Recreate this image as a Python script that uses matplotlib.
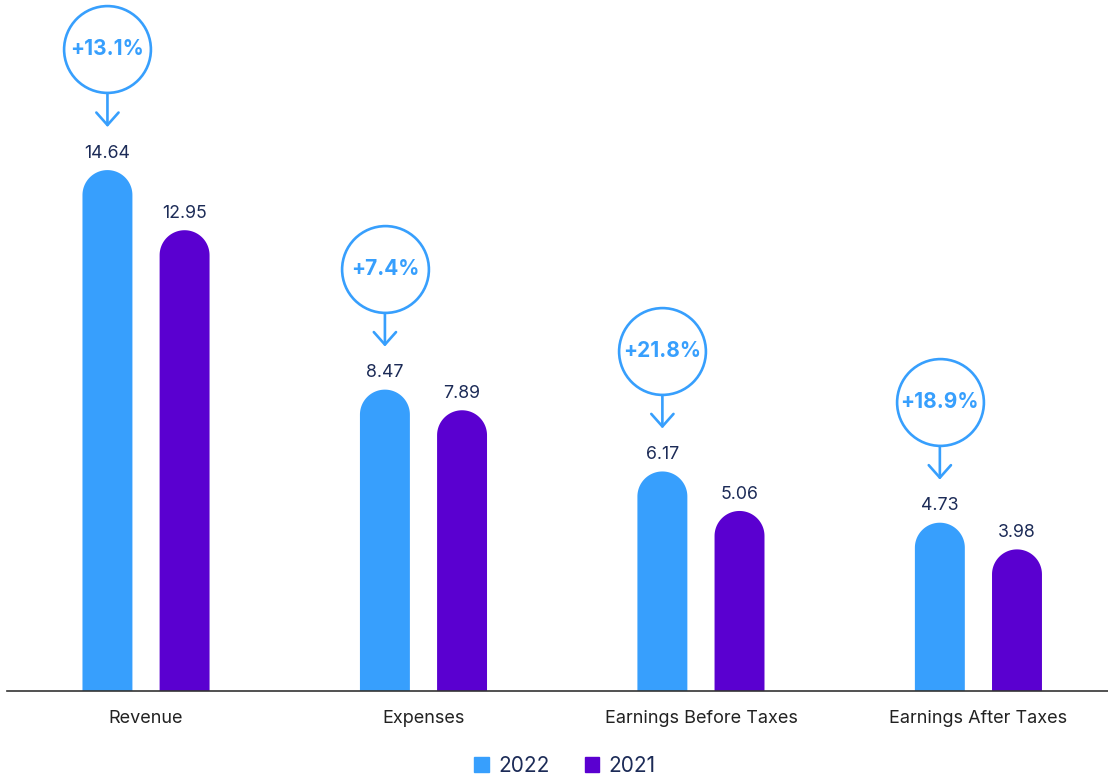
import matplotlib.pyplot as plt
from matplotlib.patches import Polygon
from matplotlib.transforms import offset_copy
import numpy as np

plt.rcParams['font.family'] = ['Inter', 'DejaVu Sans']

categories = ['Revenue', 'Expenses', 'Earnings Before Taxes', 'Earnings After Taxes']
vals_2022 = [14.64, 8.47, 6.17, 4.73]
vals_2021 = [12.95, 7.89, 5.06, 3.98]
growth = ['+13.1%', '+7.4%', '+21.8%', '+18.9%']

blue = '#379ffd'
purple = '#5a00d0'
navy = '#1c2b57'

fig = plt.figure(figsize=(11.08, 7.82), dpi=100)
W, H = 1108, 782
ax = fig.add_axes([7 / W, (H - 691) / H, 1101 / W, 691 / H])

x = np.arange(len(categories))
bw = 0.18
off = 0.139
ymax = 19.42
ax.set_xlim(-0.501, 3.467)
ax.set_ylim(0, ymax)

# half the bar width expressed in y units so the cap comes out round
ax_w_px = 1101
ax_h_px = 691
xr = ax.get_xlim()
rx = bw / 2
rx_px = rx * ax_w_px / (xr[1] - xr[0])
ry = rx_px * ymax / ax_h_px
t = np.linspace(0, np.pi, 60)


def rounded_bars(xs, vals, color):
    for xi, v in zip(xs, vals):
        cy = v - ry
        arc = np.column_stack([xi + rx * np.cos(t), cy + ry * np.sin(t)])
        pts = np.vstack([[xi + rx, 0], arc, [xi - rx, 0]])
        ax.add_patch(Polygon(pts, closed=True, facecolor=color, edgecolor='none'))
        ax.annotate(f'{v:.2f}', (xi, v), xytext=(0, 6), textcoords='offset points',
                    ha='center', va='bottom', fontsize=12.8, color=navy)


rounded_bars(x - off, vals_2022, blue)
rounded_bars(x + off, vals_2021, purple)

# growth bubbles with arrows above the 2022 bars
for xi, v, g in zip(x - off, vals_2022, growth):
    tr = offset_copy(ax.transData, fig=fig, y=87, units='points')
    ax.plot([xi], [v], marker='o', ms=62.5, mfc='white', mec=blue, mew=1.9,
            transform=tr, clip_on=False, zorder=5)
    ax.text(xi, v, g, transform=tr, ha='center', va='center', fontsize=15,
            fontweight='bold', color=blue, zorder=6)
    tip = offset_copy(ax.transData, fig=fig, y=31, units='points')
    ax.annotate('', xy=(xi, v), xycoords=tip, xytext=(0, 25), textcoords='offset points',
                arrowprops=dict(arrowstyle='->,head_length=0.45,head_width=0.4',
                                mutation_scale=20, color=blue, lw=1.9,
                                shrinkA=0, shrinkB=0))

ax.set_xticks(x)
ax.set_xticklabels(categories, fontsize=13, color='#222222')
ax.tick_params(axis='x', length=0, pad=14)
ax.set_yticks([])
for s in ['top', 'left', 'right']:
    ax.spines[s].set_visible(False)
ax.spines['bottom'].set_color('#333333')
ax.spines['bottom'].set_linewidth(1.2)
ax.spines['bottom'].set_zorder(3)

handles = [plt.Rectangle((0, 0), 1, 1, color=blue), plt.Rectangle((0, 0), 1, 1, color=purple)]
leg = fig.legend(handles, ['2022', '2021'], loc='center', bbox_to_anchor=(0.51, 1 - 766 / H),
                 ncol=2, frameon=False, fontsize=15, handlelength=0.7, handleheight=0.7,
                 handletextpad=0.45, columnspacing=1.7)
for t_ in leg.get_texts():
    t_.set_color(navy)

plt.savefig('out.png', dpi=100)
